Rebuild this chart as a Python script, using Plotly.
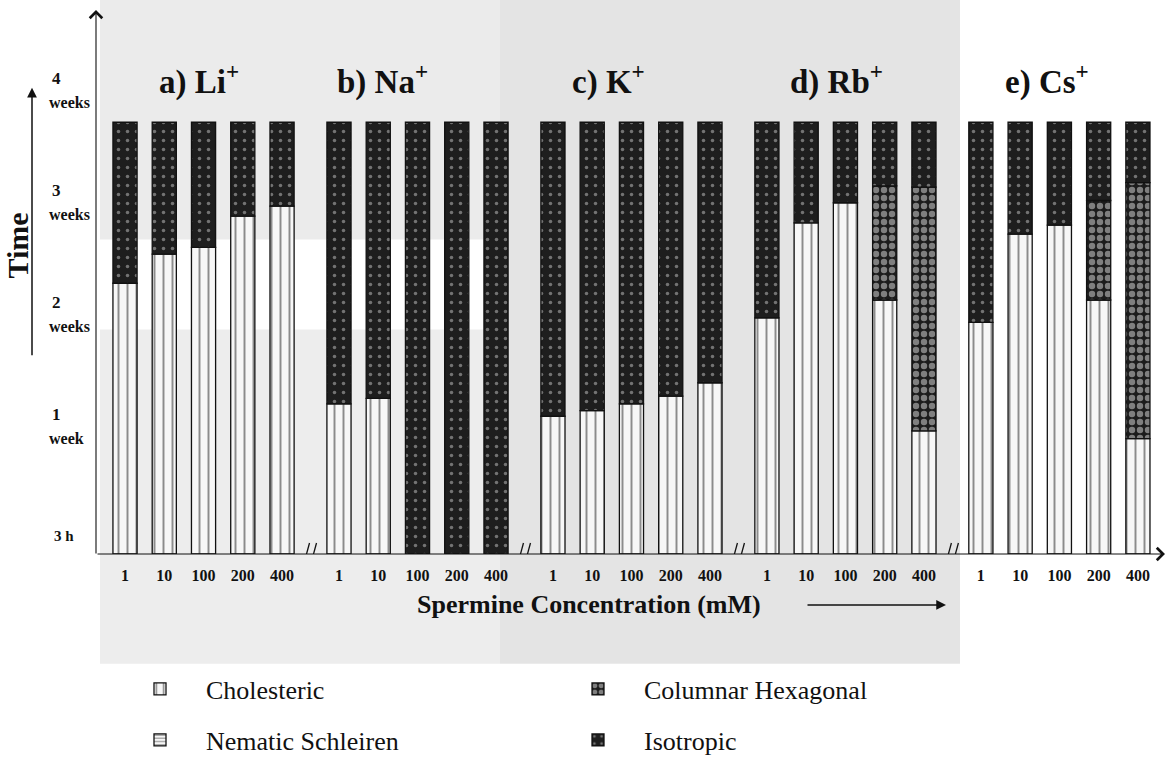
import plotly.graph_objects as go

# ---- data -------------------------------------------------------------
ion_titles = ["a) Li<sup>+</sup>", "b) Na<sup>+</sup>", "c) K<sup>+</sup>",
              "d) Rb<sup>+</sup>", "e) Cs<sup>+</sup>"]
concentrations = ["1", "10", "100", "200", "400"]

# time (weeks) at which the cholesteric phase ends (0 = isotropic from start)
li_cholesteric = [2.27, 2.53, 2.59, 2.87, 2.96]
na_cholesteric = [1.19, 1.24, 0.0, 0.0, 0.0]
k_cholesteric = [1.08, 1.13, 1.19, 1.26, 1.38]
rb_cholesteric = [1.96, 2.81, 2.99, 2.12, 0.95]
cs_cholesteric = [1.92, 2.71, 2.79, 2.12, 0.88]

# time (weeks) at which the columnar hexagonal phase ends (None = not seen)
li_columnar = [None, None, None, None, None]
na_columnar = [None, None, None, None, None]
k_columnar = [None, None, None, None, None]
rb_columnar = [None, None, None, 3.14, 3.13]
cs_columnar = [None, None, None, 3.01, 3.17]

observation_end = 3.71          # weeks
time_ticks = [0, 1, 2, 3, 4]
time_numbers = ["3 h", "1", "2", "3", "4"]
time_units = ["", "week", "weeks", "weeks", "weeks"]

cholesteric_sets = [li_cholesteric, na_cholesteric, k_cholesteric,
                    rb_cholesteric, cs_cholesteric]
columnar_sets = [li_columnar, na_columnar, k_columnar, rb_columnar, cs_columnar]

# ---- geometry helpers -------------------------------------------------
W, H = 1168, 765
PLOT_L, PLOT_R, PLOT_T, PLOT_B = 96, 1165, 10, 555
AXIS_BOTTOM = -0.152
Y_TOP = 4.714
GROUP_STEP = 5.45
X_MIN, X_MAX = -0.739, 26.49
BAR_W = 0.615
FONT = "Liberation Serif, Times New Roman, serif"
INK = "#111111"


def px_x(px):
    return (px - PLOT_L) / (PLOT_R - PLOT_L)


def px_y(py):
    return (PLOT_B - py) / (PLOT_B - PLOT_T)


def label(px, py, text, size, anchor="center", **extra):
    return dict(x=px_x(px), y=px_y(py), xref="paper", yref="paper",
                xanchor=anchor, yanchor="middle", text=text, showarrow=False,
                font=dict(family=FONT, size=size, color=INK), **extra)


# ---- build the segments -------------------------------------------------
xs, ticktext = [], []
chol_x, chol_base, chol_h = [], [], []
col_x, col_base, col_h = [], [], []
iso_x, iso_base, iso_h = [], [], []

for g, (chol, col) in enumerate(zip(cholesteric_sets, columnar_sets)):
    for i, conc in enumerate(concentrations):
        x = g * GROUP_STEP + i
        xs.append(x)
        ticktext.append(conc)
        start = AXIS_BOTTOM
        if chol[i] > 0:
            chol_x.append(x)
            chol_base.append(AXIS_BOTTOM)
            chol_h.append(chol[i] - AXIS_BOTTOM)
            start = chol[i]
        if col[i] is not None:
            col_x.append(x)
            col_base.append(start)
            col_h.append(col[i] - start)
            start = col[i]
        iso_x.append(x)
        iso_base.append(start)
        iso_h.append(observation_end - start)

line_style = dict(color=INK, width=1.3)
PAD = "\u00a0" * 4

fig = go.Figure()
fig.add_trace(go.Bar(
    x=chol_x, y=chol_h, base=chol_base, width=BAR_W, name=PAD + "Cholesteric",
    legend="legend",
    marker=dict(color="#f7f7f7", line=line_style,
                pattern=dict(shape="|", fgcolor="#222222", size=9, solidity=0.22)),
))
fig.add_trace(go.Bar(
    x=col_x, y=col_h, base=col_base, width=BAR_W, name=PAD + "Columnar Hexagonal",
    legend="legend",
    marker=dict(color="#1c1c1c", line=line_style,
                pattern=dict(shape=".", fgcolor="#e2e2e2", size=8, solidity=0.5)),
))
fig.add_trace(go.Bar(
    x=[None], y=[None], width=BAR_W, name=PAD + "Nematic Schleiren",
    legend="legend2",
    marker=dict(color="#f7f7f7", line=line_style,
                pattern=dict(shape="-", fgcolor="#222222", size=4, solidity=0.35)),
))
fig.add_trace(go.Bar(
    x=iso_x, y=iso_h, base=iso_base, width=BAR_W, name=PAD + "Isotropic",
    legend="legend2",
    marker=dict(color="#1e1e1e", line=line_style,
                pattern=dict(shape=".", fgcolor="#c8c8c8", size=9, solidity=0.12)),
))

# ---- annotations --------------------------------------------------------
ann = []
# group titles
title_px = [199, 382, 608, 836, 1047]
for t, px in zip(ion_titles, title_px):
    ann.append(label(px, 80, "<b>%s</b>" % t, 33))

# time labels on the vertical axis
for w, num, unit in zip(time_ticks, time_numbers, time_units):
    ypx = 538 - 112 * w
    if unit:
        ann.append(label(50, ypx - 11, "<b>%s</b>" % num, 17, anchor="left"))
        ann.append(label(47, ypx + 13, "<b>%s</b>" % unit, 16, anchor="left"))
    else:
        ann.append(label(52, ypx - 1, "<b>%s</b>" % num, 15, anchor="left"))

# "Time" title with its upward arrow
ann.append(label(18, 246, "<b>Time</b>", 30, textangle=-90))
ann.append(dict(x=px_x(32), y=px_y(88), xref="paper", yref="paper",
                ax=0, ay=269, text="", showarrow=True, arrowhead=2,
                arrowsize=1.3, arrowwidth=1.5, arrowcolor=INK))

# concentration title with its arrow
ann.append(label(589, 606, "<b>Spermine Concentration (mM)</b>", 26))
ann.append(dict(x=px_x(946), y=px_y(606), xref="paper", yref="paper",
                ax=-140, ay=0, text="", showarrow=True, arrowhead=2,
                arrowsize=1.3, arrowwidth=1.5, arrowcolor=INK))

# axis lines with open arrow tips
ann.append(dict(x=0, y=1, xref="paper", yref="paper", ax=0, ay=PLOT_B - PLOT_T,
                text="", showarrow=True, arrowhead=4, arrowsize=2.2,
                arrowwidth=1.1, arrowcolor=INK))
ann.append(dict(x=1, y=0, xref="paper", yref="paper", ax=-(PLOT_R - PLOT_L), ay=0,
                text="", showarrow=True, arrowhead=4, arrowsize=2.2,
                arrowwidth=1.1, arrowcolor=INK))

# ---- shapes: faint scan tone and axis breaks ------------------------------
def tone(x0, x1, y0, y1, color):
    return dict(type="rect", xref="paper", yref="paper", layer="below",
                line_width=0, x0=px_x(x0), x1=px_x(x1),
                y0=px_y(y1), y1=px_y(y0), fillcolor=color)


shapes = [
    tone(100, 500, 0, 240, "#ebebeb"),
    tone(100, 500, 330, 665, "#ededed"),
    tone(500, 960, 0, 665, "#e4e4e4"),
]
for g in range(4):
    mid = g * GROUP_STEP + 4 + (GROUP_STEP - 4) / 2
    for off in (-4, 3):
        shapes.append(dict(type="line", xref="x", yref="y",
                           xsizemode="pixel", ysizemode="pixel",
                           xanchor=mid, yanchor=AXIS_BOTTOM,
                           x0=off - 3, y0=-11, x1=off + 3, y1=11,
                           line=dict(color=INK, width=1.3)))

legend_common = dict(orientation="h", xref="paper", yref="paper",
                     xanchor="left", yanchor="middle",
                     entrywidth=393, entrywidthmode="pixels",
                     bgcolor="rgba(0,0,0,0)",
                     font=dict(family=FONT, size=26, color=INK))

fig.update_layout(
    width=W, height=H,
    margin=dict(l=PLOT_L, r=W - PLOT_R, t=PLOT_T, b=H - PLOT_B),
    paper_bgcolor="white", plot_bgcolor="rgba(0,0,0,0)",
    barmode="overlay",
    showlegend=True,
    legend=dict(x=px_x(140), y=px_y(689), **legend_common),
    legend2=dict(x=px_x(140), y=px_y(740), **legend_common),
    xaxis=dict(range=[X_MIN, X_MAX], tickvals=xs, ticktext=ticktext,
               showgrid=False, zeroline=False, showline=False, ticks="",
               ticklabelstandoff=10,
               tickfont=dict(family=FONT, size=16, color=INK, weight="bold")),
    yaxis=dict(range=[AXIS_BOTTOM, Y_TOP], showgrid=False, zeroline=False,
               showline=False, showticklabels=False, ticks=""),
    annotations=ann,
    shapes=shapes,
)

fig.write_html("out.html")
